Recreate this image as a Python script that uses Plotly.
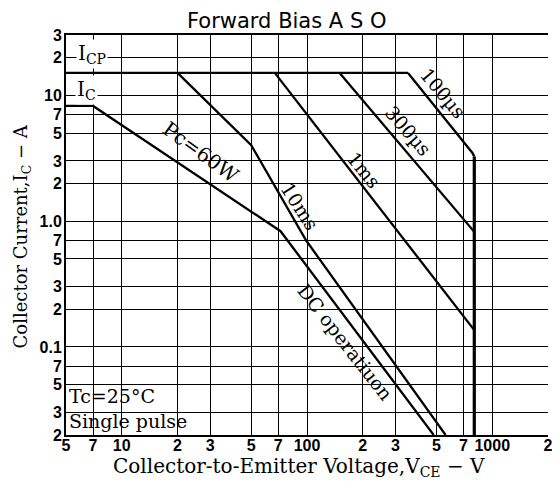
import plotly.graph_objects as go
import numpy as np

# ---- data ----
icp_v = [5, 351]
icp_i = [15, 15]
us100_v = [351, 782, 800]
us100_i = [15, 3.47, 3.25]
vceo_v = [800, 800]
vceo_i = [3.25, 0.02]
us300_v = [150, 800]
us300_i = [15, 0.82]
ms1_v = [67, 800]
ms1_i = [15, 0.136]
ms10_v = [20, 50, 99, 560]
ms10_i = [15, 4.0, 0.7, 0.02]
dc_v = [5, 7.0, 72, 483]
dc_i = [8.2, 8.2, 0.83, 0.02]

x_ticks = [5, 7, 10, 20, 30, 50, 70, 100, 200, 300, 500, 700, 1000, 2000]
x_tick_text = ["5", "7", "10", "2", "3", "5", "7", "100", "2", "3", "5", "7", "1000", "2"]
y_ticks = [0.02, 0.03, 0.05, 0.07, 0.1, 0.2, 0.3, 0.5, 0.7, 1, 2, 3, 5, 7, 10, 20, 30]
y_tick_text = ["2", "3", "5", "7", "0.1", "2", "3", "5", "7", "1.0", "2", "3", "5", "7", "10", "2", "3"]

SERIF = "DejaVu Serif, Liberation Serif, serif"
SANS = "Liberation Sans, Arial, sans-serif"

fig = go.Figure()
for xs, ys, w in [(icp_v, icp_i, 2.3), (us100_v, us100_i, 2.3), (vceo_v, vceo_i, 3.2),
                  (us300_v, us300_i, 2.3), (ms1_v, ms1_i, 2.3), (ms10_v, ms10_i, 2.3),
                  (dc_v, dc_i, 2.3)]:
    fig.add_trace(go.Scatter(x=xs, y=ys, mode="lines",
                             line=dict(color="black", width=w), showlegend=False,
                             hoverinfo="skip"))

# page body has an 8px margin: compensate so the plot area lands at
# screen x 66..553, y 35..435
OFF = 8
W, H = 552, 481
L, T, PW, PH = 66, 35, 487, 400   # plot area in screen pixels
ml, mt = L - OFF, T - OFF
mr = W - ml - PW
mb = H - mt - PH

def px(xp):
    return (xp - L) / PW

def py(yp):
    return 1 - (yp - T) / PH

ann = []
def add(text, x, y, size=19, angle=0, xanchor="center", bg=None, font=SERIF):
    d = dict(text=text, x=px(x), y=py(y), xref="paper", yref="paper",
             showarrow=False, textangle=angle, xanchor=xanchor, yanchor="middle",
             font=dict(family=font, size=size, color="black"))
    if bg:
        d.update(bgcolor=bg, borderpad=1)
    ann.append(d)

add("I<sub>CP</sub>", 92, 54, size=20, bg="white")
add("I<sub>C</sub>", 87, 90, size=20, bg="white")
add("Pc=60W", 202, 152, size=20, angle=36)
add("10ms", 302, 206, size=19, angle=57)
add("1ms", 367, 170, size=19, angle=51)
add("300µs", 412, 131, size=19, angle=49)
add("100µs", 447, 93, size=19, angle=50)
add("DC operatiuon", 348, 342, size=19, angle=52)
add("Tc=25°C", 67, 396, size=19, xanchor="left")
add("Single pulse", 67, 421, size=19, xanchor="left")
add("Collector-to-Emitter Voltage,V<sub>CE</sub> − V", 301, 467, size=20)
add("Collector Current,I<sub>C</sub> − A", 22, 236, size=18, angle=-90)
add("Forward Bias A S O", 289, 21, size=21, font="DejaVu Sans, Noto Sans, sans-serif")

fig.update_layout(
    width=W, height=H,
    margin=dict(l=ml, r=mr, t=mt, b=mb, pad=0),
    paper_bgcolor="white", plot_bgcolor="white",
    annotations=ann,
    shapes=[dict(type="rect", xref="paper", yref="paper", x0=0.004, x1=px(193),
                 y0=0.004, y1=py(381), fillcolor="white", line=dict(width=0),
                 layer="between")],
    xaxis=dict(type="log", range=[np.log10(5), np.log10(2000)],
               tickvals=x_ticks, ticktext=x_tick_text, ticks="",
               ticklabelstandoff=-5,
               showgrid=True, gridcolor="black", gridwidth=1,
               showline=True, linecolor="black", linewidth=2, mirror=True,
               tickfont=dict(family=SANS, size=16, color="black", weight="bold"),
               zeroline=False),
    yaxis=dict(type="log", range=[np.log10(0.02), np.log10(30)],
               tickvals=y_ticks, ticktext=y_tick_text, ticks="",
               ticklabelstandoff=-1,
               showgrid=True, gridcolor="black", gridwidth=1,
               showline=True, linecolor="black", linewidth=2,
               tickfont=dict(family=SANS, size=16, color="black", weight="bold"),
               zeroline=False),
)

fig.write_html("out.html")
